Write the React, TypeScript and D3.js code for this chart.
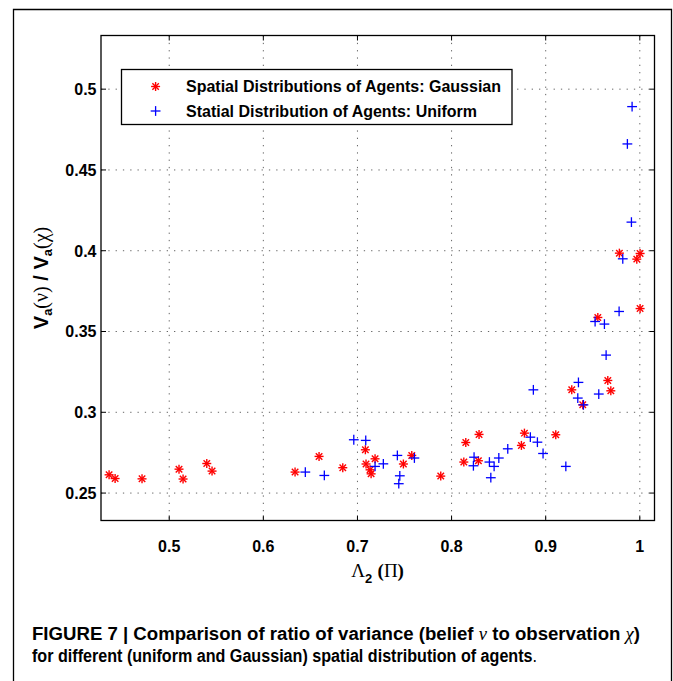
import React, { useLayoutEffect, useRef, useState } from "react";
import * as d3 from "d3";

const gaussX = [0.4361, 0.4425, 0.4711, 0.5104, 0.5147, 0.5399, 0.5455, 0.6337, 0.6592, 0.6844, 0.7084, 0.7091, 0.7134, 0.7145, 0.7187, 0.7488, 0.7577, 0.7885, 0.813, 0.8151, 0.8285, 0.8292, 0.8742, 0.8774, 0.9107, 0.9277, 0.9394, 0.9554, 0.966, 0.9692, 0.9783, 0.9968, 1.0003, 1.0003];
const gaussY = [0.2613, 0.259, 0.2588, 0.2648, 0.2587, 0.2683, 0.2636, 0.263, 0.2727, 0.2657, 0.2768, 0.268, 0.2644, 0.2619, 0.2712, 0.268, 0.2733, 0.2605, 0.2692, 0.2813, 0.27, 0.2863, 0.2795, 0.2871, 0.2861, 0.3139, 0.3046, 0.3587, 0.3197, 0.3133, 0.3985, 0.3948, 0.3983, 0.3642];

const unifX = [0.6446, 0.6648, 0.6961, 0.7088, 0.7187, 0.7275, 0.7424, 0.7439, 0.745, 0.7605, 0.8232, 0.8239, 0.8402, 0.8417, 0.8452, 0.8502, 0.8597, 0.8837, 0.8869, 0.8912, 0.8972, 0.9214, 0.9341, 0.9348, 0.9401, 0.9525, 0.9564, 0.9624, 0.9642, 0.978, 0.9819, 0.9868, 0.9911, 0.9918];
const unifY = [0.263, 0.2609, 0.283, 0.2826, 0.2665, 0.2681, 0.2733, 0.2558, 0.2607, 0.2717, 0.2669, 0.2722, 0.2692, 0.2595, 0.2665, 0.2717, 0.2774, 0.2846, 0.3139, 0.2815, 0.2745, 0.2665, 0.3088, 0.3185, 0.3046, 0.3562, 0.3113, 0.3546, 0.3354, 0.3624, 0.395, 0.4661, 0.4177, 0.4892];

const xTicks = [0.5, 0.6, 0.7, 0.8, 0.9, 1.0];
const xTickLabels = ["0.5", "0.6", "0.7", "0.8", "0.9", "1"];
const yTicks = [0.25, 0.3, 0.35, 0.4, 0.45, 0.5];
const yTickLabels = ["0.25", "0.3", "0.35", "0.4", "0.45", "0.5"];

const legendLabels = [
  "Spatial Distributions of Agents: Gaussian",
  "Statial Distribution of Agents: Uniform",
];

const W = 673;
const H = 681;
const L = 101, R = 654.5, T = 35.5, B = 520.5;

const x = d3.scaleLinear().domain([0.4274, 1.0154]).range([100.9, 654.3]);
const y = d3.scaleLinear().domain([0.2329, 0.5334]).range([520.7, 35.2]);

const SANS = "'Liberation Sans', Arial, Helvetica, sans-serif";
const SERIF = "'Liberation Serif', 'Times New Roman', serif";
const RED = "#ff0000";
const BLUE = "#0000ff";

function Star({ cx, cy }: { cx: number; cy: number }) {
  const h = 4.5;
  const d = h * 0.72;
  return (
    <g stroke={RED} strokeWidth={1.4} strokeLinecap="butt">
      <line x1={cx - h} y1={cy} x2={cx + h} y2={cy} />
      <line x1={cx} y1={cy - h} x2={cx} y2={cy + h} />
      <line x1={cx - d} y1={cy - d} x2={cx + d} y2={cy + d} />
      <line x1={cx - d} y1={cy + d} x2={cx + d} y2={cy - d} />
    </g>
  );
}

function Plus({ cx, cy }: { cx: number; cy: number }) {
  const h = 4.9;
  return (
    <g stroke={BLUE} strokeWidth={1.3}>
      <line x1={cx - h} y1={cy} x2={cx + h} y2={cy} />
      <line x1={cx} y1={cy - h} x2={cx} y2={cy + h} />
    </g>
  );
}

export default function App() {
  const tickLen = 5;
  const cap1 = useRef<SVGTextElement>(null);
  const cap2 = useRef<SVGTextElement>(null);
  const [s1, setS1] = useState(0.82);
  const [s2, setS2] = useState(0.82);

  useLayoutEffect(() => {
    if (cap1.current) {
      const w = cap1.current.getComputedTextLength();
      if (w > 0) setS1(608 / w);
    }
    if (cap2.current) {
      const w = cap2.current.getComputedTextLength();
      if (w > 0) setS2(505 / w);
    }
  }, []);

  return (
    <svg
      width={W}
      height={H}
      viewBox={`0 0 ${W} ${H}`}
      style={{ position: "absolute", left: 0, top: 0, background: "#fff" }}
    >
      <rect x={0} y={0} width={W} height={H} fill="#fff" />
      {/* outer figure frame */}
      <path d={`M13.5,${H + 2} L13.5,9.5 L671.5,9.5 L671.5,${H + 2}`} fill="none" stroke="#000" strokeWidth={1.3} />

      {/* grid */}
      <g stroke="#666" strokeWidth={1} strokeDasharray="1.3 6">
        {xTicks.map((t) => (
          <line key={"gx" + t} x1={x(t)} x2={x(t)} y1={T} y2={B} />
        ))}
        {yTicks.map((t) => (
          <line key={"gy" + t} x1={L} x2={R} y1={y(t)} y2={y(t)} />
        ))}
      </g>

      {/* ticks */}
      <g stroke="#000" strokeWidth={1}>
        {xTicks.map((t) => (
          <g key={"tx" + t}>
            <line x1={x(t)} x2={x(t)} y1={B} y2={B - tickLen} />
            <line x1={x(t)} x2={x(t)} y1={T} y2={T + tickLen} />
          </g>
        ))}
        {yTicks.map((t) => (
          <g key={"ty" + t}>
            <line x1={L} x2={L + tickLen} y1={y(t)} y2={y(t)} />
            <line x1={R} x2={R - tickLen} y1={y(t)} y2={y(t)} />
          </g>
        ))}
      </g>

      {/* data */}
      {gaussX.map((v, i) => (
        <Star key={"g" + i} cx={x(v)} cy={y(gaussY[i])} />
      ))}
      {unifX.map((v, i) => (
        <Plus key={"u" + i} cx={x(v)} cy={y(unifY[i])} />
      ))}

      {/* axes box */}
      <rect x={L} y={T} width={R - L} height={B - T} fill="none" stroke="#000" strokeWidth={1.3} />

      {/* tick labels */}
      <g fontFamily={SANS} fontWeight="bold" fontSize={16} fill="#000">
        {xTicks.map((t, i) => (
          <text key={"lx" + t} x={x(t)} y={552} textAnchor="middle">
            {xTickLabels[i]}
          </text>
        ))}
        {yTicks.map((t, i) => (
          <text key={"ly" + t} x={96.5} y={y(t) + 5.8} textAnchor="end">
            {yTickLabels[i]}
          </text>
        ))}
      </g>

      {/* x label */}
      <text x={377.6} y={577} textAnchor="middle" fill="#000">
        <tspan fontFamily={SERIF} fontSize={19}>Λ</tspan>
        <tspan fontFamily={SANS} fontWeight="bold" fontSize={13} dy={6}>2</tspan>
        <tspan fontFamily={SANS} fontWeight="bold" fontSize={19} dy={-6}> </tspan>
        <tspan fontFamily={SERIF} fontWeight="bold" fontSize={19}>(</tspan>
        <tspan fontFamily={SERIF} fontSize={19}>Π</tspan>
        <tspan fontFamily={SERIF} fontWeight="bold" fontSize={19}>)</tspan>
      </text>

      {/* y label */}
      <text transform="translate(48,278) rotate(-90)" textAnchor="middle" fill="#000" fontFamily={SANS} fontWeight="bold" fontSize={20}>
        <tspan>V</tspan>
        <tspan fontSize={13} dy={4}>a</tspan>
        <tspan dy={-4} fontFamily={SERIF} fontWeight="normal">(ν)</tspan>
        <tspan> / V</tspan>
        <tspan fontSize={13} dy={4}>a</tspan>
        <tspan dy={-4} fontFamily={SERIF} fontWeight="normal">(χ)</tspan>
      </text>

      {/* legend */}
      <rect x={121.5} y={69.5} width={390.5} height={55} fill="#fff" stroke="#000" strokeWidth={1.3} />
      <Star cx={155.6} cy={86.5} />
      <Plus cx={155.6} cy={111} />
      <g fontFamily={SANS} fontWeight="bold" fontSize={16} fill="#000">
        <text x={186} y={92}>{legendLabels[0]}</text>
        <text x={186} y={116.6}>{legendLabels[1]}</text>
      </g>

      {/* caption */}
      <g transform={`translate(32,640) scale(${s1},1)`}>
        <text ref={cap1} x={0} y={0} fontFamily={SANS} fontWeight="bold" fontSize={19} fill="#000">
          FIGURE 7 | Comparison of ratio of variance (belief{" "}
          <tspan fontFamily={SERIF} fontStyle="italic" fontWeight="normal">ν</tspan> to observation{" "}
          <tspan fontFamily={SERIF} fontStyle="italic" fontWeight="normal">χ</tspan>)
        </text>
      </g>
      <g transform={`translate(32,662) scale(${s2},1)`}>
        <text ref={cap2} x={0} y={0} fontFamily={SANS} fontWeight="bold" fontSize={19} fill="#000">
          for different (uniform and Gaussian) spatial distribution of agents
          <tspan fontWeight="normal">.</tspan>
        </text>
      </g>
    </svg>
  );
}
